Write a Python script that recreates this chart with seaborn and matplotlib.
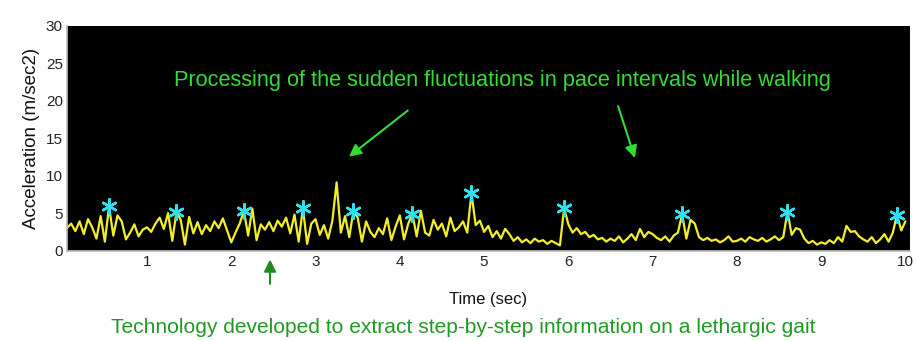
import matplotlib
matplotlib.use("Agg")
import matplotlib.pyplot as plt
import numpy as np
import pandas as pd
import seaborn as sns

# acceleration samples every 0.05 s, one row per second
accel = [
    3.4, 3.0, 3.6, 2.6, 3.9, 2.2, 4.2, 3.1, 1.6, 4.6, 1.2, 5.9, 2.0, 4.7, 3.9, 1.5, 2.4, 3.5, 1.9, 2.8,
    3.1, 2.5, 3.6, 4.4, 2.9, 5.0, 1.3, 5.2, 4.1, 0.8, 4.5, 2.3, 3.8, 2.2, 3.4, 2.6, 3.9, 3.0, 4.3, 2.7,
    1.1, 2.4, 3.6, 5.3, 2.0, 5.6, 1.4, 3.5, 2.8, 3.8, 2.6, 4.0, 3.2, 4.4, 2.3, 4.8, 1.2, 5.7, 0.9, 3.6,
    4.2, 2.1, 3.4, 1.6, 4.0, 9.1, 2.4, 4.6, 1.8, 5.3, 4.4, 1.2, 3.9, 2.5, 1.8, 3.0, 2.2, 4.3, 1.4, 3.2,
    4.7, 1.5, 3.6, 4.9, 1.9, 5.3, 2.4, 2.0, 4.1, 2.8, 3.6, 1.9, 4.4, 2.6, 3.1, 3.9, 2.4, 7.7, 3.4, 4.0,
    2.5, 3.3, 1.8, 2.6, 1.6, 2.9, 2.2, 1.3, 1.8, 1.1, 1.5, 1.0, 1.6, 1.2, 1.4, 0.9, 1.3, 1.0, 0.7, 5.7,
    3.5, 2.4, 3.0, 2.2, 2.5, 1.8, 2.1, 1.5, 1.7, 1.2, 1.6, 1.3, 1.9, 1.1, 1.6, 2.2, 1.4, 2.9, 1.8, 2.5,
    2.2, 1.7, 1.4, 1.9, 1.2, 2.0, 2.4, 4.9, 1.6, 4.1, 3.6, 1.8, 1.4, 1.7, 1.3, 1.5, 1.1, 1.4, 1.9, 1.2,
    1.3, 1.6, 1.2, 1.8, 1.5, 1.3, 1.7, 1.2, 1.5, 1.9, 1.4, 1.8, 5.2, 2.1, 3.0, 2.8, 1.6, 1.0, 1.3, 0.8,
    1.1, 0.9, 1.4, 1.0, 1.8, 1.2, 3.3, 2.5, 2.6, 1.9, 1.5, 1.2, 1.8, 1.0, 1.5, 2.2, 1.2, 2.4, 4.8, 2.7,
    3.9,
]
dt = 0.05
peak_times = [0.55, 1.35, 2.15, 2.85, 3.45, 4.15, 4.85, 5.95, 7.35, 8.60, 9.90]

xticks = [1, 2, 3, 4, 5, 6, 7, 8, 9, 10]
yticks = [0, 5, 10, 15, 20, 25, 30]

top_note = "Processing of the sudden fluctuations in pace intervals while walking"
bottom_note = "Technology developed to extract step-by-step information on a lethargic gait"

sig = pd.DataFrame({"t": np.arange(len(accel)) * dt, "a": accel})
peaks = sig[np.isin(np.round(sig["t"], 2), np.round(peak_times, 2))]

sns.set_theme(style="white")
plt.rcParams["font.family"] = ["Liberation Sans", "DejaVu Sans"]

fig = plt.figure(figsize=(9.17, 3.41), dpi=100)
ax = fig.add_axes([0.073, 0.265, 0.919, 0.66])
ax.set_facecolor("black")

sns.lineplot(data=sig, x="t", y="a", ax=ax, color="#f2ee2a", linewidth=1.6)
ax.scatter(peaks["t"], peaks["a"], marker=(6, 2, 0), s=110, color="#2fe0ee",
           linewidths=1.8, zorder=5)

ax.set_xlim(0.05, 10.05)
ax.set_ylim(0, 30)
ax.set_xticks(xticks)
ax.set_yticks(yticks)
ax.tick_params(axis="both", labelsize=11, length=0, pad=3, colors="#222222")
for side in ["top", "right"]:
    ax.spines[side].set_visible(False)
for side in ["left", "bottom"]:
    ax.spines[side].set_color("#bbbbbb")
ax.set_xlabel("Time (sec)", fontsize=12, color="#111111", labelpad=17)
ax.set_ylabel("Acceleration (m/sec2)", fontsize=13.5, color="#111111", labelpad=4)

ax.text(5.22, 22.7, top_note, color="#33dd33", fontsize=15.7, ha="center", va="center")
ax.annotate("", xy=(3.37, 12.3), xytext=(4.12, 18.9),
            arrowprops=dict(arrowstyle="-|>", color="#33dd33", lw=1.5, mutation_scale=18))
ax.annotate("", xy=(6.80, 12.0), xytext=(6.58, 19.6),
            arrowprops=dict(arrowstyle="-|>", color="#33dd33", lw=1.5, mutation_scale=18))

fig.text(0.505, 0.04, bottom_note, color="#1f9a22", fontsize=15.1, ha="center", va="center")
ax.annotate("", xy=(2.46, -0.8), xytext=(2.46, -4.8), annotation_clip=False,
            arrowprops=dict(arrowstyle="-|>", color="#1f8a22", lw=1.5, mutation_scale=18))

fig.savefig("out.png", dpi=100)
plt.close(fig)
